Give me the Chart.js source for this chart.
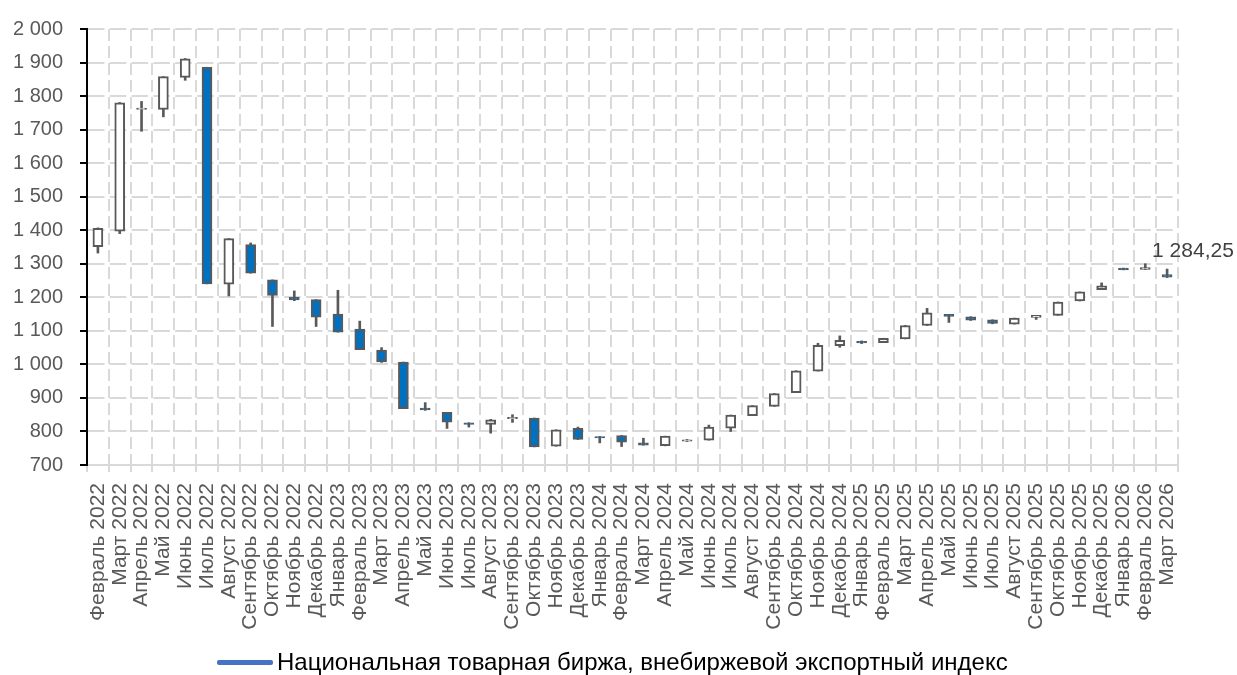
<!DOCTYPE html>
<html lang="ru">
<head>
<meta charset="utf-8">
<title>Внебиржевой экспортный индекс</title>
<script src="https://cdn.jsdelivr.net/npm/chart.js@4.4.1/dist/chart.umd.min.js"></script>
<style>
  html, body { margin: 0; padding: 0; background: #fff; }
  #wrap { width: 1237px; height: 675px; position: relative; }
  #legend {
    position: absolute; left: 217px; top: 648px; height: 28px;
    display: flex; align-items: center; white-space: nowrap;
    font: 24px 'Liberation Sans', Arial, sans-serif; color: #000;
  }
  #legend .swatch { width: 56px; height: 5px; border-radius: 2px; background: #4472C4; margin-right: 4px; }
</style>
</head>
<body>
<div id="wrap">
  <canvas id="chart"></canvas>
  <div id="legend"><span class="swatch"></span><span id="legendText"></span></div>
</div>
<script>
// months, Feb 2022 .. Mar 2026
const categories = [
  'Февраль 2022', 'Март 2022', 'Апрель 2022', 'Май 2022', 'Июнь 2022', 'Июль 2022',
  'Август 2022', 'Сентябрь 2022', 'Октябрь 2022', 'Ноябрь 2022', 'Декабрь 2022',
  'Январь 2023', 'Февраль 2023', 'Март 2023', 'Апрель 2023', 'Май 2023', 'Июнь 2023',
  'Июль 2023', 'Август 2023', 'Сентябрь 2023', 'Октябрь 2023', 'Ноябрь 2023', 'Декабрь 2023',
  'Январь 2024', 'Февраль 2024', 'Март 2024', 'Апрель 2024', 'Май 2024', 'Июнь 2024',
  'Июль 2024', 'Август 2024', 'Сентябрь 2024', 'Октябрь 2024', 'Ноябрь 2024', 'Декабрь 2024',
  'Январь 2025', 'Февраль 2025', 'Март 2025', 'Апрель 2025', 'Май 2025', 'Июнь 2025',
  'Июль 2025', 'Август 2025', 'Сентябрь 2025', 'Октябрь 2025', 'Ноябрь 2025', 'Декабрь 2025',
  'Январь 2026', 'Февраль 2026', 'Март 2026'
];

const openVals = [
  1351, 1397, 1760, 1760, 1856, 1886, 1239, 1357, 1252, 1200, 1193,
  1150, 1105, 1043, 1007, 870, 857, 826, 821, 838, 840, 756, 809,
  785, 788, 766, 758, 771, 774, 810, 847, 875, 916, 980, 1056,
  1069, 1065, 1076, 1116, 1149, 1142, 1133, 1120, 1140, 1146, 1189, 1223,
  1287, 1283, 1268
];
const highVals = [
  1407, 1781, 1784, 1858, 1912, 1886, 1375, 1362, 1252, 1219, 1193,
  1221, 1129, 1050, 1007, 886, 857, 826, 836, 850, 840, 805, 813,
  785, 788, 780, 786, 776, 819, 849, 877, 913, 981, 1063, 1085,
  1070, 1078, 1116, 1167, 1149, 1142, 1133, 1138, 1146, 1186, 1216, 1243,
  1287, 1300, 1284.25
];
const lowVals = [
  1332, 1390, 1695, 1738, 1847, 1240, 1204, 1272, 1113, 1190, 1113,
  1096, 1044, 1006, 868, 863, 809, 813, 795, 827, 754, 756, 776,
  766, 755, 759, 757, 770, 774, 800, 847, 875, 916, 980, 1051,
  1062, 1065, 1076, 1116, 1125, 1131, 1121, 1120, 1134, 1146, 1189, 1223,
  1282, 1283, 1259
];
const closeVals = [
  1406, 1780, 1764, 1858, 1911, 1240, 1375, 1272, 1206, 1192, 1141,
  1096, 1044, 1007, 868, 864, 828, 821, 835, 842, 754, 805, 776,
  781, 768, 759, 786, 775, 813, 849, 877, 913, 981, 1057, 1072,
  1064, 1078, 1116, 1154, 1143, 1132, 1122, 1138, 1146, 1186, 1216, 1234,
  1282, 1289, 1260
];

const lastLabelValue = 1284.25;
const seriesName = 'Национальная товарная биржа, внебиржевой экспортный индекс';

function fmt(v, dec) {
  const parts = v.toFixed(dec || 0).split('.');
  parts[0] = parts[0].replace(/\B(?=(\d{3})+(?!\d))/g, ' ');
  return parts.join(',');
}

const bodies = openVals.map((o, i) => [o, closeVals[i]]);
const wicks = lowVals.map((l, i) => [l, highVals[i]]);
const bodyColors = openVals.map((o, i) => closeVals[i] < o ? '#0070C0' : '#FFFFFF');

const FONT = "'Liberation Sans', Arial, sans-serif";
const GRID = '#D9D9D9';

document.getElementById('legendText').textContent = seriesName;

// value label next to the last candle
const lastLabel = {
  id: 'lastLabel',
  afterDatasetsDraw(chart) {
    const x = chart.scales.x.getPixelForValue(categories.length - 1);
    const y = chart.scales.y.getPixelForValue(lastLabelValue);
    const ctx = chart.ctx;
    ctx.save();
    ctx.font = '21px ' + FONT;
    ctx.fillStyle = '#404040';
    ctx.textAlign = 'left';
    ctx.textBaseline = 'alphabetic';
    ctx.fillText(fmt(lastLabelValue, 2), x - 15, y - 12);
    ctx.restore();
  }
};

new Chart(document.getElementById('chart'), {
  type: 'bar',
  data: {
    labels: categories,
    datasets: [
      {
        label: seriesName,
        data: bodies,
        grouped: false,
        order: 0,
        barThickness: 10,
        backgroundColor: bodyColors,
        borderColor: '#595959',
        borderWidth: 2,
        borderSkipped: false
      },
      {
        label: 'wick',
        data: wicks,
        grouped: false,
        order: 1,
        barThickness: 2,
        backgroundColor: '#595959',
        borderWidth: 0
      }
    ]
  },
  options: {
    responsive: true,
    maintainAspectRatio: false,
    animation: false,
    layout: { padding: { top: 4, right: 59, left: 0, bottom: 0 } },
    plugins: {
      tooltip: { enabled: false },
      legend: { display: false }
    },
    scales: {
      x: {
        offset: true,
        afterFit: s => { s.height = 210; },
        grid: {
          offset: true,
          color: GRID,
          lineWidth: 2,
          tickColor: GRID,
          tickLength: 7,
          tickBorderDash: []
        },
        border: { color: GRID, width: 2, dash: [12, 5] },
        ticks: {
          autoSkip: false,
          minRotation: 90,
          maxRotation: 90,
          padding: 11,
          color: '#595959',
          font: { family: FONT, size: 21 }
        }
      },
      y: {
        min: 700,
        max: 2000,
        afterFit: s => { s.width = 87; },
        grid: {
          color: GRID,
          lineWidth: 2,
          tickColor: '#000',
          tickLength: 7,
          tickBorderDash: []
        },
        border: { color: '#000', width: 2, dash: [16.5, 5.3] },
        ticks: {
          stepSize: 100,
          padding: 17,
          color: '#595959',
          font: { family: FONT, size: 20 },
          callback: v => fmt(v)
        }
      }
    }
  },
  plugins: [lastLabel]
});
</script>
</body>
</html>
